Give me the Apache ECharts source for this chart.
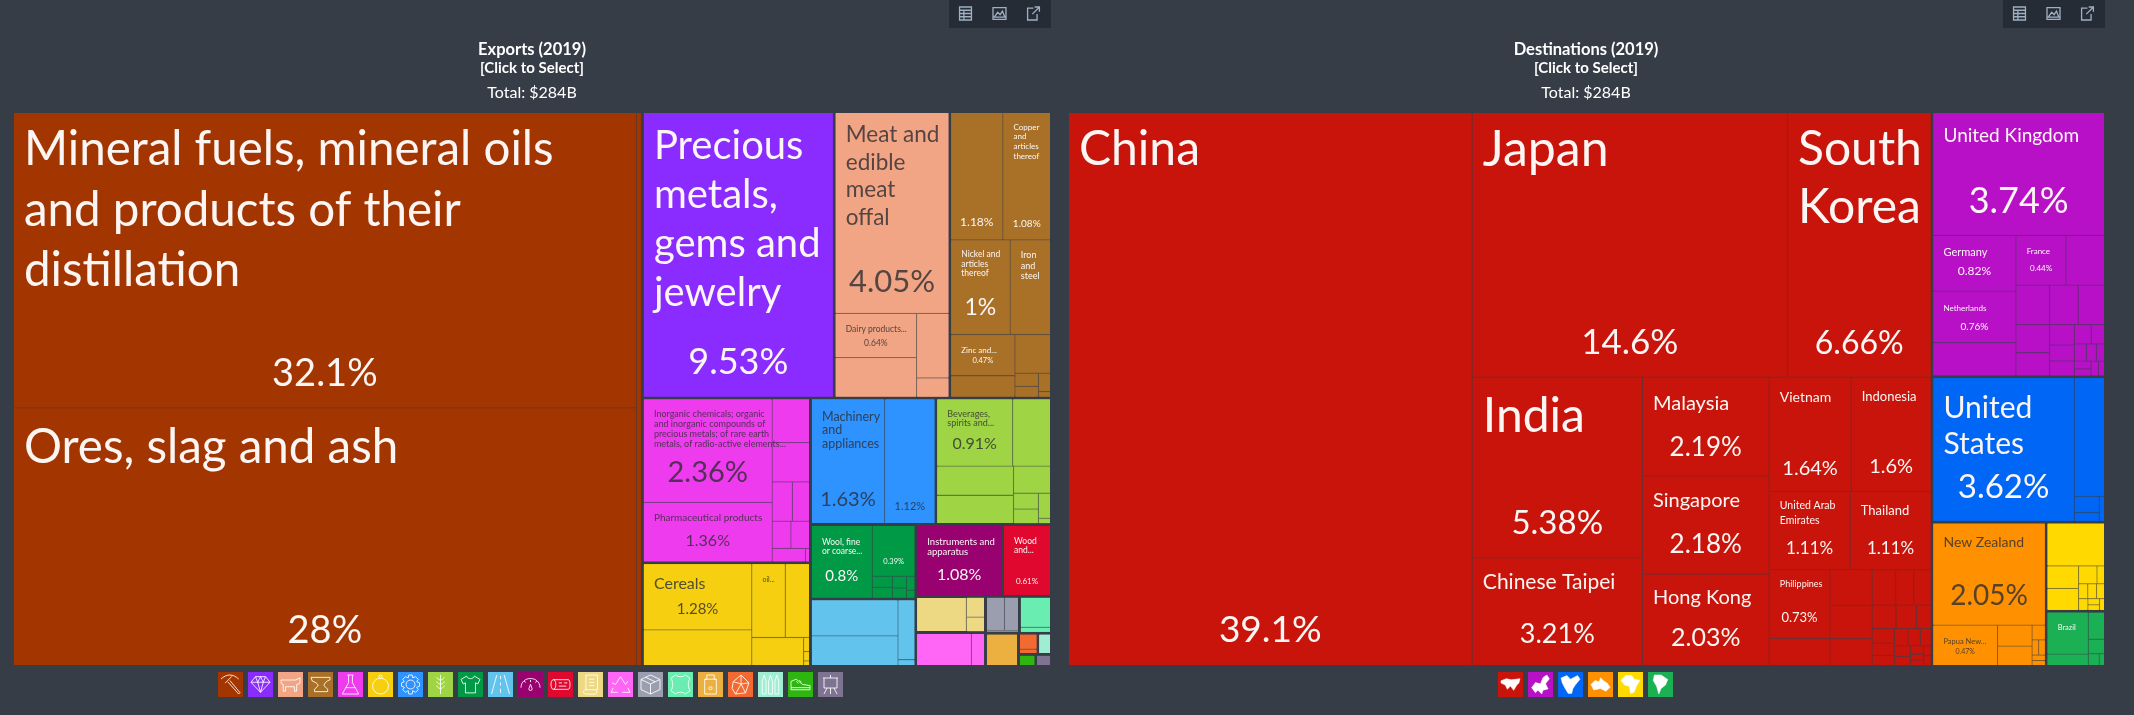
<!DOCTYPE html>
<html><head><meta charset="utf-8">
<style>html,body{margin:0;padding:0;background:#373d47}#c{width:2134px;height:715px}</style>
<script src="https://cdn.jsdelivr.net/npm/echarts@6/dist/echarts.min.js"></script>
</head><body><div id="c"></div>
<script>
// ---- Exports (2019), share of total, % ----
const mineralNames=['Mineral fuels, mineral oils and products of their distillation','Ores, slag and ash','Salt and sulphur'];
const mineralValues=[32.1,28,0.51];
const preciousNames=['Precious metals, gems and jewelry'];
const preciousValues=[9.53];
const animalNames=['Meat and edible meat offal','Dairy products...'];
const animalValues=[4.05,0.64,0.57,0.37,0.11];
const metalNames=['Aluminium','Copper and articles thereof','Nickel and articles thereof','Iron and steel','Zinc and...'];
const metalValues=[1.18,1.08,1.0,0.68,0.47,0.245,0.245,0.055,0.045,0.04,0.012];
const chemicalNames=['Inorganic chemicals; organic and inorganic compounds','Pharmaceutical products'];
const chemicalValues=[2.36,1.36,0.29,0.26,0.14,0.12,0.09,0.09,0.08,0.01];
const cerealNames=['Cereals','Other cereal products','Oil...'];
const cerealValues=[1.28,0.69,0.44,0.32,0.26,0.015,0.01,0.005];
const machineryNames=['Machinery and appliances','Electrical machinery'];
const machineryValues=[1.63,1.12];
const vegetableNames=['Beverages, spirits and...'];
const vegetableValues=[0.91,0.455,0.4,0.39,0.18,0.07,0.065,0.055,0.012];
const textileNames=['Wool, fine or coarse...','Apparel'];
const textileValues=[0.8,0.39,0.04,0.04,0.026,0.021,0.012,0.03];
const transportNames=[];
const transportValues=[0.565,0.465,0.183,0.018];
const instrumentNames=['Instruments and apparatus'];
const instrumentValues=[1.08];
const woodNames=['Wood and...'];
const woodValues=[0.61];
const paperValues=[0.32,0.068,0.05];
const recycledValues=[0.33,0.08];
const greyValues=[0.115,0.09,0.012];
const leatherValues=[0.175,0.03];
const stoneValues=[0.19];
const orangeValues=[0.055,0.016];
const paleValues=[0.05];
const shoeValues=[0.036];
const easelValues=[0.033];

// ---- Destinations (2019), share of total, % ----
const asiaNames=['China','Japan','South Korea','India','Chinese Taipei','Malaysia','Singapore','Hong Kong','Vietnam','Indonesia','Thailand','United Arab Emirates','Philippines'];
const asiaValues=[39.1,14.6,6.66,5.38,3.21,2.19,2.18,2.03,1.64,1.6,1.11,1.11,0.73,0.29,0.265,0.245,0.2,0.145,0.113,0.108,0.098,0.084,0.06,0.057,0.048,0.04,0.04,0.037,0.032,0.03,0.026,0.02,0.013,0.013,0.013,0.013];
const europeNames=['United Kingdom','Germany','Netherlands','France'];
const europeValues=[3.74,0.82,0.76,0.44,0.49,0.34,0.235,0.2,0.185,0.167,0.138,0.09,0.07,0.066,0.058,0.046,0.037,0.03,0.025,0.023,0.021,0.02,0.016];
const northAmericaNames=['United States'];
const northAmericaValues=[3.62,0.64,0.072,0.04,0.024];
const oceaniaNames=['New Zealand','Papua New...'];
const oceaniaValues=[2.05,0.47,0.13,0.12,0.035,0.018,0.018,0.013,0.012];
const africaValues=[0.45,0.13,0.127,0.06,0.025,0.025,0.024,0.022,0.02,0.013,0.012,0.011];
const southAmericaNames=['Brazil'];
const southAmericaValues=[0.32,0.088,0.082,0.044,0.024,0.012];

// ---- tile colours per group ----
const exportGroups=[
 ['Mineral products',mineralNames,mineralValues,'#A33500',0],
 ['Precious metals',preciousNames,preciousValues,'#8A2BFF',0],
 ['Animal products',animalNames,animalValues,'#F2A584',1],
 ['Metals',metalNames,metalValues,'#A97128',0],
 ['Chemical products',chemicalNames,chemicalValues,'#EE3BEE',1],
 ['Foodstuffs',cerealNames,cerealValues,'#F5CF10',1],
 ['Machines',machineryNames,machineryValues,'#2E92FF',1],
 ['Vegetable products',vegetableNames,vegetableValues,'#9FD445',1],
 ['Textiles',textileNames,textileValues,'#009A46',0],
 ['Transportation',transportNames,transportValues,'#62C4EC',1],
 ['Instruments',instrumentNames,instrumentValues,'#990070',0],
 ['Wood products',woodNames,woodValues,'#E0082F',0],
 ['Paper goods',[],paperValues,'#EDD884',1],
 ['Recycled',[],recycledValues,'#FF66F6',1],
 ['Miscellaneous',[],greyValues,'#9B9EAF',1],
 ['Animal hides',[],leatherValues,'#69EDB0',1],
 ['Stone and glass',[],stoneValues,'#EBB040',1],
 ['Plastics',[],orangeValues,'#F26A32',1],
 ['Arms',[],paleValues,'#9FEDD3',1],
 ['Footwear',[],shoeValues,'#2EB50F',1],
 ['Art',[],easelValues,'#7E7390',1]
];
const destGroups=[
 ['Asia',asiaNames,asiaValues,'#C8140A',0],
 ['Europe',europeNames,europeValues,'#B710C7',0],
 ['North America',northAmericaNames,northAmericaValues,'#0066F5',0],
 ['Oceania',oceaniaNames,oceaniaValues,'#FF9100',1],
 ['Africa',[],africaValues,'#FFD900',1],
 ['South America',southAmericaNames,southAmericaValues,'#1CB055',0]
];

// ---- label typography: t lines, f size, l line height, y first-line centre below tile top, p pct size, c pct centre below tile top ----
const labelFormats={
 'Mineral fuels, mineral oils and products of their distillation':{t:['Mineral fuels, mineral oils','and products of their','distillation'],f:47.5,l:60.5,y:37,p:38,c:260.5},
 'Ores, slag and ash':{t:['Ores, slag and ash'],f:47.5,l:60,y:39,p:38,c:222.5},
 'Precious metals, gems and jewelry':{t:['Precious','metals,','gems and','jewelry'],f:40,l:49,y:33,p:36,c:249.5},
 'Meat and edible meat offal':{t:['Meat and','edible','meat','offal'],f:22.5,l:27.6,y:22,p:31,c:169},
 'Dairy products...':{t:['Dairy products...'],f:8.5,l:10,y:15,p:8.5,c:29},
 'Aluminium':{t:[],p:12,c:109},
 'Copper and articles thereof':{t:['Copper','and','articles','thereof'],f:8,l:9.7,y:14,p:10,c:111},
 'Nickel and articles thereof':{t:['Nickel and','articles','thereof'],f:8.5,l:9.5,y:14,p:23,c:67},
 'Iron and steel':{t:['Iron','and','steel'],f:9,l:10.5,y:15},
 'Zinc and...':{t:['Zinc and...'],f:8,l:10,y:15,p:7.5,c:25},
 'Inorganic chemicals; organic and inorganic compounds':{t:['Inorganic chemicals; organic','and inorganic compounds of','precious metals; of rare earth','metals, of radio-active elements...'],f:9,l:9.7,y:15,p:29,c:73},
 'Pharmaceutical products':{t:['Pharmaceutical products'],f:10,l:12,y:15,p:16,c:38},
 'Machinery and appliances':{t:['Machinery','and','appliances'],f:12.5,l:13.5,y:17,p:20,c:100},
 'Electrical machinery':{t:[],p:11,c:107},
 'Beverages, spirits and...':{t:['Beverages,','spirits and...'],f:9,l:9,y:15,p:16,c:44},
 'Wool, fine or coarse...':{t:['Wool, fine','or coarse...'],f:8.5,l:8.7,y:16,p:15,c:50},
 'Apparel':{t:[],p:7.5,c:35},
 'Instruments and apparatus':{t:['Instruments and','apparatus'],f:9.5,l:10,y:16,p:16,c:49},
 'Wood and...':{t:['Wood','and...'],f:8.5,l:9,y:15,p:8,c:55},
 'Cereals':{t:['Cereals'],f:16,l:18,y:20,p:15,c:45},
 'Oil...':{t:['oil...'],f:7,l:9,y:15},
 'China':{t:['China'],f:48,l:58,y:37,p:37,c:517},
 'Japan':{t:['Japan'],f:50,l:58,y:37,p:35,c:230},
 'South Korea':{t:['South','Korea'],f:48,l:58,y:37,p:32,c:231},
 'India':{t:['India'],f:48,l:58,y:39,p:33,c:146},
 'Chinese Taipei':{t:['Chinese Taipei'],f:21,l:24,y:24,p:27,c:76},
 'Malaysia':{t:['Malaysia'],f:20,l:24,y:26,p:26,c:70},
 'Singapore':{t:['Singapore'],f:20,l:24,y:24,p:26,c:68},
 'Hong Kong':{t:['Hong Kong'],f:20,l:24,y:23,p:25,c:63},
 'Vietnam':{t:['Vietnam'],f:14,l:16,y:20,p:20,c:91},
 'Indonesia':{t:['Indonesia'],f:13,l:16,y:19,p:20,c:89},
 'United Arab Emirates':{t:['United Arab','Emirates'],f:10.5,l:15,y:14,p:17,c:56},
 'Thailand':{t:['Thailand'],f:13,l:16,y:19,p:17,c:56},
 'Philippines':{t:['Philippines'],f:9,l:11,y:14,p:13,c:47},
 'United Kingdom':{t:['United Kingdom'],f:19,l:22,y:23,p:36,c:88},
 'Germany':{t:['Germany'],f:11,l:13,y:16,p:12,c:35},
 'France':{t:['France'],f:8,l:10,y:15,p:8,c:32},
 'Netherlands':{t:['Netherlands'],f:8,l:10,y:17,p:10,c:35},
 'United States':{t:['United','States'],f:30,l:36,y:30,p:33,c:109},
 'New Zealand':{t:['New Zealand'],f:14,l:16,y:19,p:28,c:72},
 'Papua New...':{t:['Papua New...'],f:7.5,l:9,y:16,p:7,c:25},
 'Brazil':{t:['Brazil'],f:7.5,l:9,y:15}
};

const BG='#373d47', FONT='Lato';
function mix(a,b,k){const h=s=>[1,3,5].map(i=>parseInt(s.substr(i,2),16));const A=h(a),B=h(b);
 return 'rgb('+A.map((v,i)=>Math.round(v*(1-k)+B[i]*k)).join(',')+')';}

function leafLabel(name,value,colour,dark){
 const s=labelFormats[name]; if(!s) return {show:false};
 const text=dark?mix(colour,'#2d2d33',0.8):'#fbf6f4';
 const rich={g:{fontSize:1,lineHeight:1},n:{fontFamily:FONT,fontSize:s.f||10,lineHeight:s.l||10,color:text,align:'left'}};
 const lines=s.t.map(t=>'{n|'+t+'}');
 let top=0,cursor=0;
 if(lines.length){top=Math.max(0,s.y-s.l/2);cursor=top+lines.length*s.l;}
 if(s.p){
  const plh=s.p*1.2;
  rich.p={fontFamily:FONT,fontSize:s.p,lineHeight:plh,color:text,align:'center'};
  const gap=Math.max(1,s.c-plh/2-cursor);
  rich.g.lineHeight=gap;
  lines.push('{g| }','{p|'+value+'%}');
 }
 return {show:true,position:'insideTopLeft',distance:0,padding:[top,10,0,10],overflow:'none',formatter:lines.join('\n'),rich:rich};
}
function buildTree(groups){
 return groups.map(([title,names,values,colour,dark])=>({
  name:title,
  itemStyle:{color:colour,borderColor:mix(colour,BG,0.6),borderWidth:0,gapWidth:1.3},
  label:{show:false},
  children:values.map((v,i)=>{const nm=names[i]||(title+' '+(i+1));
   return {name:nm,value:v,itemStyle:{color:colour,borderColor:colour,borderWidth:0},label:leafLabel(nm,v,colour,dark)};})
 }));
}
function series(left,width,groups,ratio){
 return {type:'treemap',left:left,top:113,width:width,height:552,data:buildTree(groups),squareRatio:ratio,
  roam:false,nodeClick:false,breadcrumb:{show:false},visibleMin:0,childrenVisibleMin:0,silent:true,
  label:{show:false},upperLabel:{show:false},emphasis:{disabled:true},
  levels:[{itemStyle:{gapWidth:3,borderWidth:0,borderColor:BG}},{itemStyle:{gapWidth:1.3,borderWidth:0}},{itemStyle:{borderWidth:0}}]};
}

// ---- legend icons (25 x 25 box) ----
const exportIcons=[
 'M6 9C10 5 15 5 19 9M14 7L9 12M11 11L19 20L20 19L12.5 10',
 'M8 6H17L21 11L12.5 20L4 11ZM4 11H21M8 6L10 11L12.5 20L15 11L17 6M10 11L12.5 6L15 11',
 'M4 9H17L21 7V12L18 13V19H16V15H8V19H6V13C4 13 4 11 4 9',
 'M4 7H20V9C17 10 15 12 15 14L18 17V19H7V17L10 14C10 12 7 11 5 10Z',
 'M10 5H15M11 5V11L6 20H19L14 11V5M8.5 15H16.5',
 'M12.5 7A7.5 7.5 0 1 0 12.6 7M12.5 4A1.5 1.5 0 1 0 12.6 4',
 'M12.5 8.5A4 4 0 1 0 12.6 8.5M11 4H14L14.5 6.5L17 5.5L19.5 8L18 10L20.5 11V14L18 15L19.5 17L17 19.5L14.5 18L14 21H11L10.5 18L8 19.5L5.5 17L7 15L4.5 14V11L7 10L5.5 8L8 5.5L10.5 6.5Z',
 'M12.5 4V22M12.5 9C10 8 9 7 9 6M12.5 9C15 8 16 7 16 6M12.5 13C10 12 9 11 9 10M12.5 13C15 12 16 11 16 10M12.5 17C10 16 9 15 9 14M12.5 17C15 16 16 15 16 14',
 'M9 5L4 8L6 12L8 11V20H17V11L19 12L21 8L16 5C15 8 10 8 9 5Z',
 'M9 4L4 22M16 4L21 22M12.5 5V8M12.5 11V14M12.5 17V21',
 'M4 17C4 6 21 6 21 17M12.5 10V12M12.5 14L11 18A1.5 1.5 0 0 0 14 18ZM7 11L8 12.5M18 11L17 12.5',
 'M6 8H20C22 8 22 17 20 17H6C3 17 3 8 6 8ZM6 8C9 8 9 17 6 17M11 11H14M16 11H19M11 14H18',
 'M8 4H19V18H8ZM8 18C5 18 5 22 8 22H17C19 22 19 18 17 18M11 8H16M11 11H16M11 14H16',
 'M12.5 5L8 12M8 12L5 10.5M12.5 5L17 12M17 12L19 9M6 15L4 19H10M19 15L21 19H14',
 'M12.5 4L21 8V17L12.5 21L4 17V8ZM4 8L12.5 12L21 8M12.5 12V21M8 6L16.5 10',
 'M8 4C10 6 15 6 17 4L21 7C19 10 19 15 21 18L17 21C15 19 10 19 8 21L4 18C6 15 6 10 4 7Z',
 'M9 4H16V8H18V22H7V8H9ZM7 8H18M12.5 15A1.5 1.5 0 1 0 12.6 15',
 'M6 10L13 4L20 11L17 20L8 21L5 16ZM6 10L13 12L20 11M13 4V12M8 21L13 12L17 20',
 'M6 20V10L7.5 5L9 10V20ZM11 20V10L12.5 5L14 10V20ZM16 20V10L17.5 5L19 10V20Z',
 'M3 17V11L8 9L14 14L21 15V19H3ZM3 17H21M8 11L10 13M11 10L13 12',
 'M5 6H20M6 6V16H19V6M12.5 3V6M9 16L6 22M16 16L19 22M12.5 16V22'
];
const destIcons=[
 'M4 9L9 7L14 8L22 7L21 11L19 13L16 18L13 14L10 17L8 13L4 11Z',
 'M5 15L8 11L12 12L14 7L17 5L19 8L16 12L18 16L14 17L13 20L10 17L8 19Z',
 'M5 7L10 5L13 8L19 5L21 8L17 13L15 16L14 20L11 20L8 15L6 11Z',
 'M6 13L9 10L12 11L13 8L15 10L18 12L20 15L17 18L13 16L8 17Z',
 'M5 10L9 6L14 6L16 9L21 10L18 15L16 20L13 21L12 15L8 14Z',
 'M8 5L14 5L20 9L18 14L14 17L12 22L10 15L7 10Z'
];
const toolIcons=[
 'M0 0H11V12H0ZM0 3H11M0 6H11M0 9H11M4 3V12',
 'M0 1H11V11H0ZM1 9L4 5L6 7L8 4L10 9Z',
 'M6 2H1V12H9V7M5 7L11 1M7 1H11V5'
];
function swatchSeries(x0,groups,icons,filled){
 return {type:'custom',coordinateSystem:'none',silent:true,data:groups.map((g,i)=>i),
  renderItem:function(params){
   const i=params.dataIndex,x=x0+i*30;
   return {type:'group',children:[
    {type:'rect',shape:{x:x,y:672,width:25,height:25},style:{fill:groups[i][3]}},
    {type:'path',shape:{pathData:icons[i],x:x+3,y:675,width:19,height:19,layout:'center'},
     style:filled?{fill:'#fff',stroke:'#fff',lineWidth:0.5}:{fill:'none',stroke:'rgba(255,255,255,0.85)',lineWidth:1}}
   ]};
  }};
}
function toolSeries(x0){
 return {type:'custom',coordinateSystem:'none',silent:true,z:5,data:toolIcons.map((d,i)=>i),
  renderItem:function(params){
   const i=params.dataIndex;
   return {type:'path',shape:{pathData:toolIcons[i],x:x0+10+i*34,y:7,width:13,height:13,layout:'center'},
    style:{fill:'none',stroke:'#9fb0c3',lineWidth:1.3}};
  }};
}
function heading(cx,main){
 const t=(text,y,size,weight)=>({text:text,left:cx,top:y,textAlign:'center',padding:0,
  textStyle:{color:'#fff',fontFamily:FONT,fontSize:size,fontWeight:weight,lineHeight:size+2}});
 return [t(main,40,16.5,'bold'),t('[Click to Select]',60,15,'bold'),t('Total: $284B',84,16,'normal')];
}

const chart=echarts.init(document.getElementById('c'),null,{renderer:'canvas'});
chart.setOption({
 animation:false,backgroundColor:BG,
 title:[...heading(532,'Exports (2019)'),...heading(1586,'Destinations (2019)')],
 tooltip:{show:false},
 graphic:{elements:[
  {type:'rect',shape:{x:949,y:0,width:102,height:28},style:{fill:'#262c36'},silent:true},
  {type:'rect',shape:{x:2003,y:0,width:102,height:28},style:{fill:'#262c36'},silent:true}]},
 series:[series(14,1036,exportGroups,(1+Math.sqrt(5))/2),series(1069,1035,destGroups,1.5),
  swatchSeries(218,exportGroups,exportIcons,false),swatchSeries(1498,destGroups,destIcons,true),
  toolSeries(949),toolSeries(2003)]
});
</script></body></html>
